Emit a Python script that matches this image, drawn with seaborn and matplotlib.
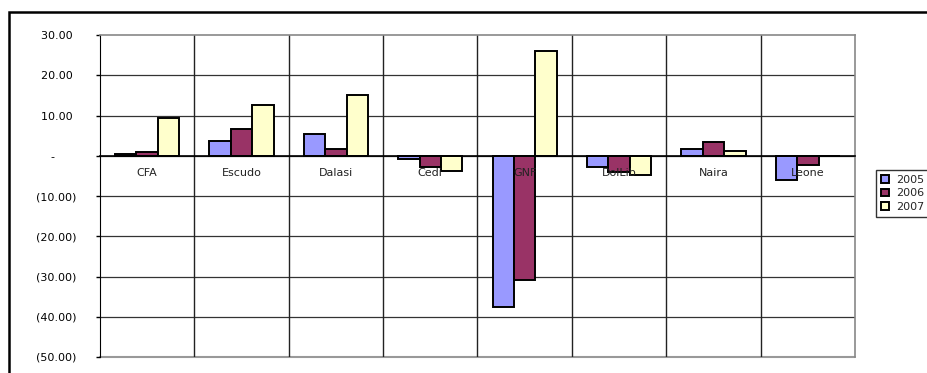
import pandas as pd
import matplotlib
matplotlib.use("Agg")
import matplotlib.pyplot as plt
import seaborn as sns
from matplotlib.patches import Rectangle

# data
currencies = ["CFA", "Escudo", "Dalasi", "Cedi", "GNF", "DolLib", "Naira", "Leone"]
years = ["2005", "2006", "2007"]
vals_2005 = [0.4, 3.6, 5.3, -0.7, -37.6, -2.8, 1.6, -6.0]
vals_2006 = [0.9, 6.7, 1.7, -2.8, -30.8, -4.0, 3.3, -2.4]
vals_2007 = [9.3, 12.7, 15.0, -3.9, 26.0, -4.7, 1.2, 0.0]
year_colors = ["#9999FF", "#993366", "#FFFFCC"]

df = pd.DataFrame({
    "currency": currencies * 3,
    "year": [y for y in years for _ in currencies],
    "value": vals_2005 + vals_2006 + vals_2007,
})

sns.set_style("white")
plt.rcParams["font.family"] = ["DejaVu Sans"]
fs = 8

fig = plt.figure(figsize=(9.28, 3.73), dpi=100)
ax = fig.add_axes([100 / 928, 1 - 357 / 373, 755 / 928, 322 / 373])

sns.barplot(
    data=df, x="currency", y="value", hue="year",
    order=currencies, hue_order=years, palette=year_colors,
    width=0.68, edgecolor="black", linewidth=1.4, saturation=1,
    legend=True, ax=ax,
)

# y axis, accounting style labels
ax.set_ylim(-50, 30)
yt = list(range(-50, 31, 10))
ax.set_yticks(yt)
labels = []
for v in yt:
    if v > 0:
        labels.append(f"{v:.2f} ")
    elif v == 0:
        labels.append("-      ")
    else:
        labels.append(f"({abs(v):.2f})")
ax.set_yticklabels(labels, fontsize=fs, color="#222222")
ax.tick_params(axis="y", left=True, length=3, width=1, pad=14, colors="black")

# category axis sits on zero, labels drawn over the bars
ax.set_xlim(-0.5, len(currencies) - 0.5)
ax.spines["bottom"].set_position(("data", 0))
ax.tick_params(axis="x", bottom=False, length=0, pad=9, labelsize=fs,
               labelcolor="#222222")
ax.xaxis.set_zorder(5)
ax.spines["bottom"].set_zorder(5)
ax.set_xlabel("")
ax.set_ylabel("")

# grid drawn by hand so it stays under the bars
for v in yt[1:-1]:
    ax.axhline(v, color="#333333", linewidth=0.9, zorder=0.5)
ax.axhline(-50, color="#999999", linewidth=1.5, clip_on=False, zorder=0.5)
for i in range(len(currencies) - 1):
    ax.axvline(i + 0.5, color="#222222", linewidth=1.0, zorder=0.5)

for side in ["top", "right"]:
    ax.spines[side].set_color("#888888")
    ax.spines[side].set_linewidth(1.2)
ax.spines["left"].set_color("black")
ax.spines["bottom"].set_color("black")
ax.spines["bottom"].set_linewidth(1.2)

# legend, clipped at the right edge as in the original
ax.legend(
    loc="upper left", bbox_to_anchor=(876 / 928, 1 - 170 / 373),
    bbox_transform=fig.transFigure, frameon=True, fancybox=False,
    edgecolor="black", fontsize=fs, handlelength=0.7, handleheight=0.7,
    handletextpad=0.7, borderpad=0.45, labelspacing=0.3, borderaxespad=0,
)
ax.get_legend().get_frame().set_linewidth(1.0)

# outer chart border
fig.add_artist(Rectangle((9 / 928, -0.2), 1.2, 1 - 12 / 373 + 0.2,
                         transform=fig.transFigure, fill=False,
                         edgecolor="black", linewidth=1.8, clip_on=False))

fig.savefig("out.png", dpi=100)
